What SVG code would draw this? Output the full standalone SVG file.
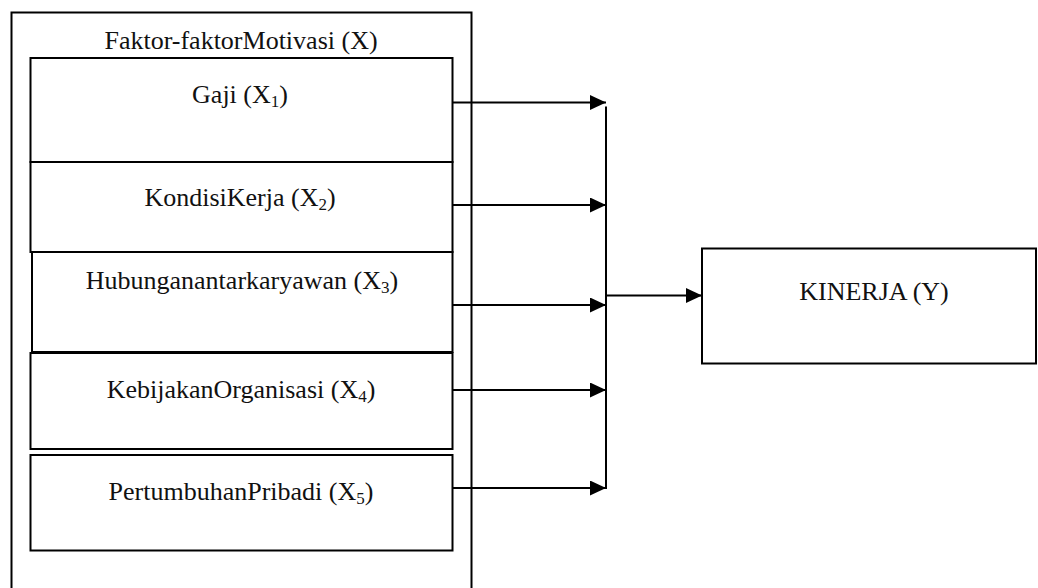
<svg xmlns="http://www.w3.org/2000/svg" width="1038" height="588" viewBox="0 0 1038 588">
<defs>
<style>
.box{fill:#fff;stroke:#000;stroke-width:2}
.t{font-family:"Liberation Serif","Times New Roman",serif;font-size:26px;fill:#111;text-anchor:middle}
.sub{font-size:17px}
.c{fill:none;stroke:#000;stroke-width:2}
</style>
<marker id="ah" markerWidth="16" markerHeight="15" refX="16" refY="7.5" orient="auto" markerUnits="userSpaceOnUse">
<path d="M0,0 L16,7.5 L0,15 Z" fill="#000"/>
</marker>
</defs>
<rect width="1038" height="588" fill="#fff"/>
<g id="group-x">
<rect class="box" x="11.5" y="12.5" width="460" height="600"/>
<text class="t" x="241" y="49">Faktor-faktorMotivasi (X)</text>
</g>
<g id="x1">
<rect class="box" x="30.5" y="58" width="422" height="104"/>
<text class="t" x="240" y="103">Gaji (X<tspan class="sub" dy="4">1</tspan><tspan dy="-4">)</tspan></text>
</g>
<g id="x2">
<rect class="box" x="30.5" y="162" width="422" height="90"/>
<text class="t" x="240" y="206">KondisiKerja (X<tspan class="sub" dy="4">2</tspan><tspan dy="-4">)</tspan></text>
</g>
<g id="x3">
<rect class="box" x="32" y="252" width="420.5" height="100"/>
<text class="t" x="242" y="289">Hubunganantarkaryawan (X<tspan class="sub" dy="4">3</tspan><tspan dy="-4">)</tspan></text>
</g>
<g id="x4">
<rect class="box" x="30.5" y="353" width="422" height="96"/>
<text class="t" x="241" y="398">KebijakanOrganisasi (X<tspan class="sub" dy="4">4</tspan><tspan dy="-4">)</tspan></text>
</g>
<g id="x5">
<rect class="box" x="30.5" y="455" width="422" height="95.5"/>
<text class="t" x="241" y="500">PertumbuhanPribadi (X<tspan class="sub" dy="4">5</tspan><tspan dy="-4">)</tspan></text>
</g>
<g id="y">
<rect class="box" x="702" y="248.5" width="334" height="115"/>
<text class="t" x="874" y="300">KINERJA (Y)</text>
</g>
<g id="connectors">
<line class="c" x1="452.5" y1="102.5" x2="606" y2="102.5" marker-end="url(#ah)"/>
<line class="c" x1="452.5" y1="205" x2="606" y2="205" marker-end="url(#ah)"/>
<line class="c" x1="452.5" y1="305" x2="606" y2="305" marker-end="url(#ah)"/>
<line class="c" x1="452.5" y1="390" x2="606" y2="390" marker-end="url(#ah)"/>
<line class="c" x1="452.5" y1="488" x2="606" y2="488" marker-end="url(#ah)"/>
<line class="c" x1="606" y1="106.5" x2="606" y2="489"/>
<line class="c" x1="606" y1="295.5" x2="702" y2="295.5" marker-end="url(#ah)"/>
</g>
</svg>
